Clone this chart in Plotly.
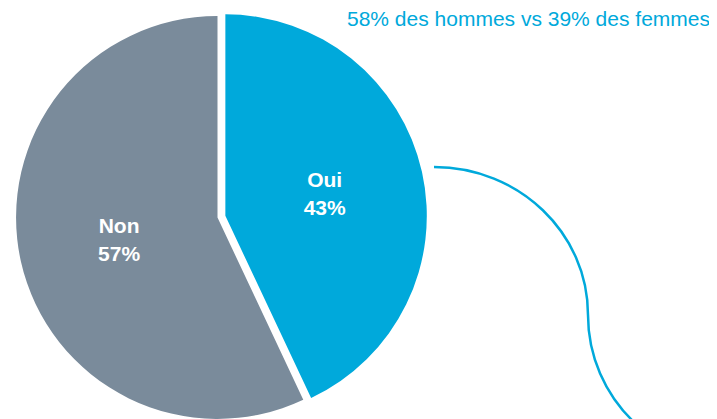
import plotly.graph_objects as go

labels = ["Oui", "Non"]
values = [43, 57]
colors = ["#00A9DB", "#7A8B9B"]
pulls = [0.04, 0]
note_text = "58% des hommes vs 39% des femmes"

W, H = 717, 419
OFF = 8  # page body margin offset

def px(x):
    return (x - OFF) / W

def py(y):
    return 1 - (y - OFF) / H

fig = go.Figure(go.Pie(
    labels=labels,
    values=values,
    marker=dict(colors=colors, line=dict(width=0)),
    pull=pulls,
    sort=False,
    direction="clockwise",
    rotation=0,
    texttemplate="<b>%{label}</b><br><b>%{percent:.0%}</b>",
    textposition="inside",
    insidetextorientation="horizontal",
    textfont=dict(family="Liberation Sans, Arial", size=21, color="white"),
    domain=dict(x=[0, H / W], y=[0, 1]),
    showlegend=False,
    hoverinfo="label+percent",
))

# S-shaped connector line
def pt(x, y):
    return f"{px(x):.5f},{py(y):.5f}"

path = (
    f"M {pt(434,167)} C {pt(519,167)} {pt(588,233)} {pt(588,315)} "
    f"C {pt(588,398)} {pt(657,465)} {pt(740,465)}"
)
fig.add_shape(type="path", path=path, xref="paper", yref="paper",
              line=dict(color="#00A9DB", width=2.5))

fig.add_annotation(text=note_text, xref="paper", yref="paper",
                   x=px(712), y=py(19), xanchor="right", yanchor="middle",
                   showarrow=False,
                   font=dict(family="Liberation Sans, Arial", size=21, color="#00A9DB"))

fig.update_layout(
    width=W, height=H,
    margin=dict(l=0, r=0, t=0, b=0),
    paper_bgcolor="white",
    plot_bgcolor="white",
)

fig.write_html("out.html")
